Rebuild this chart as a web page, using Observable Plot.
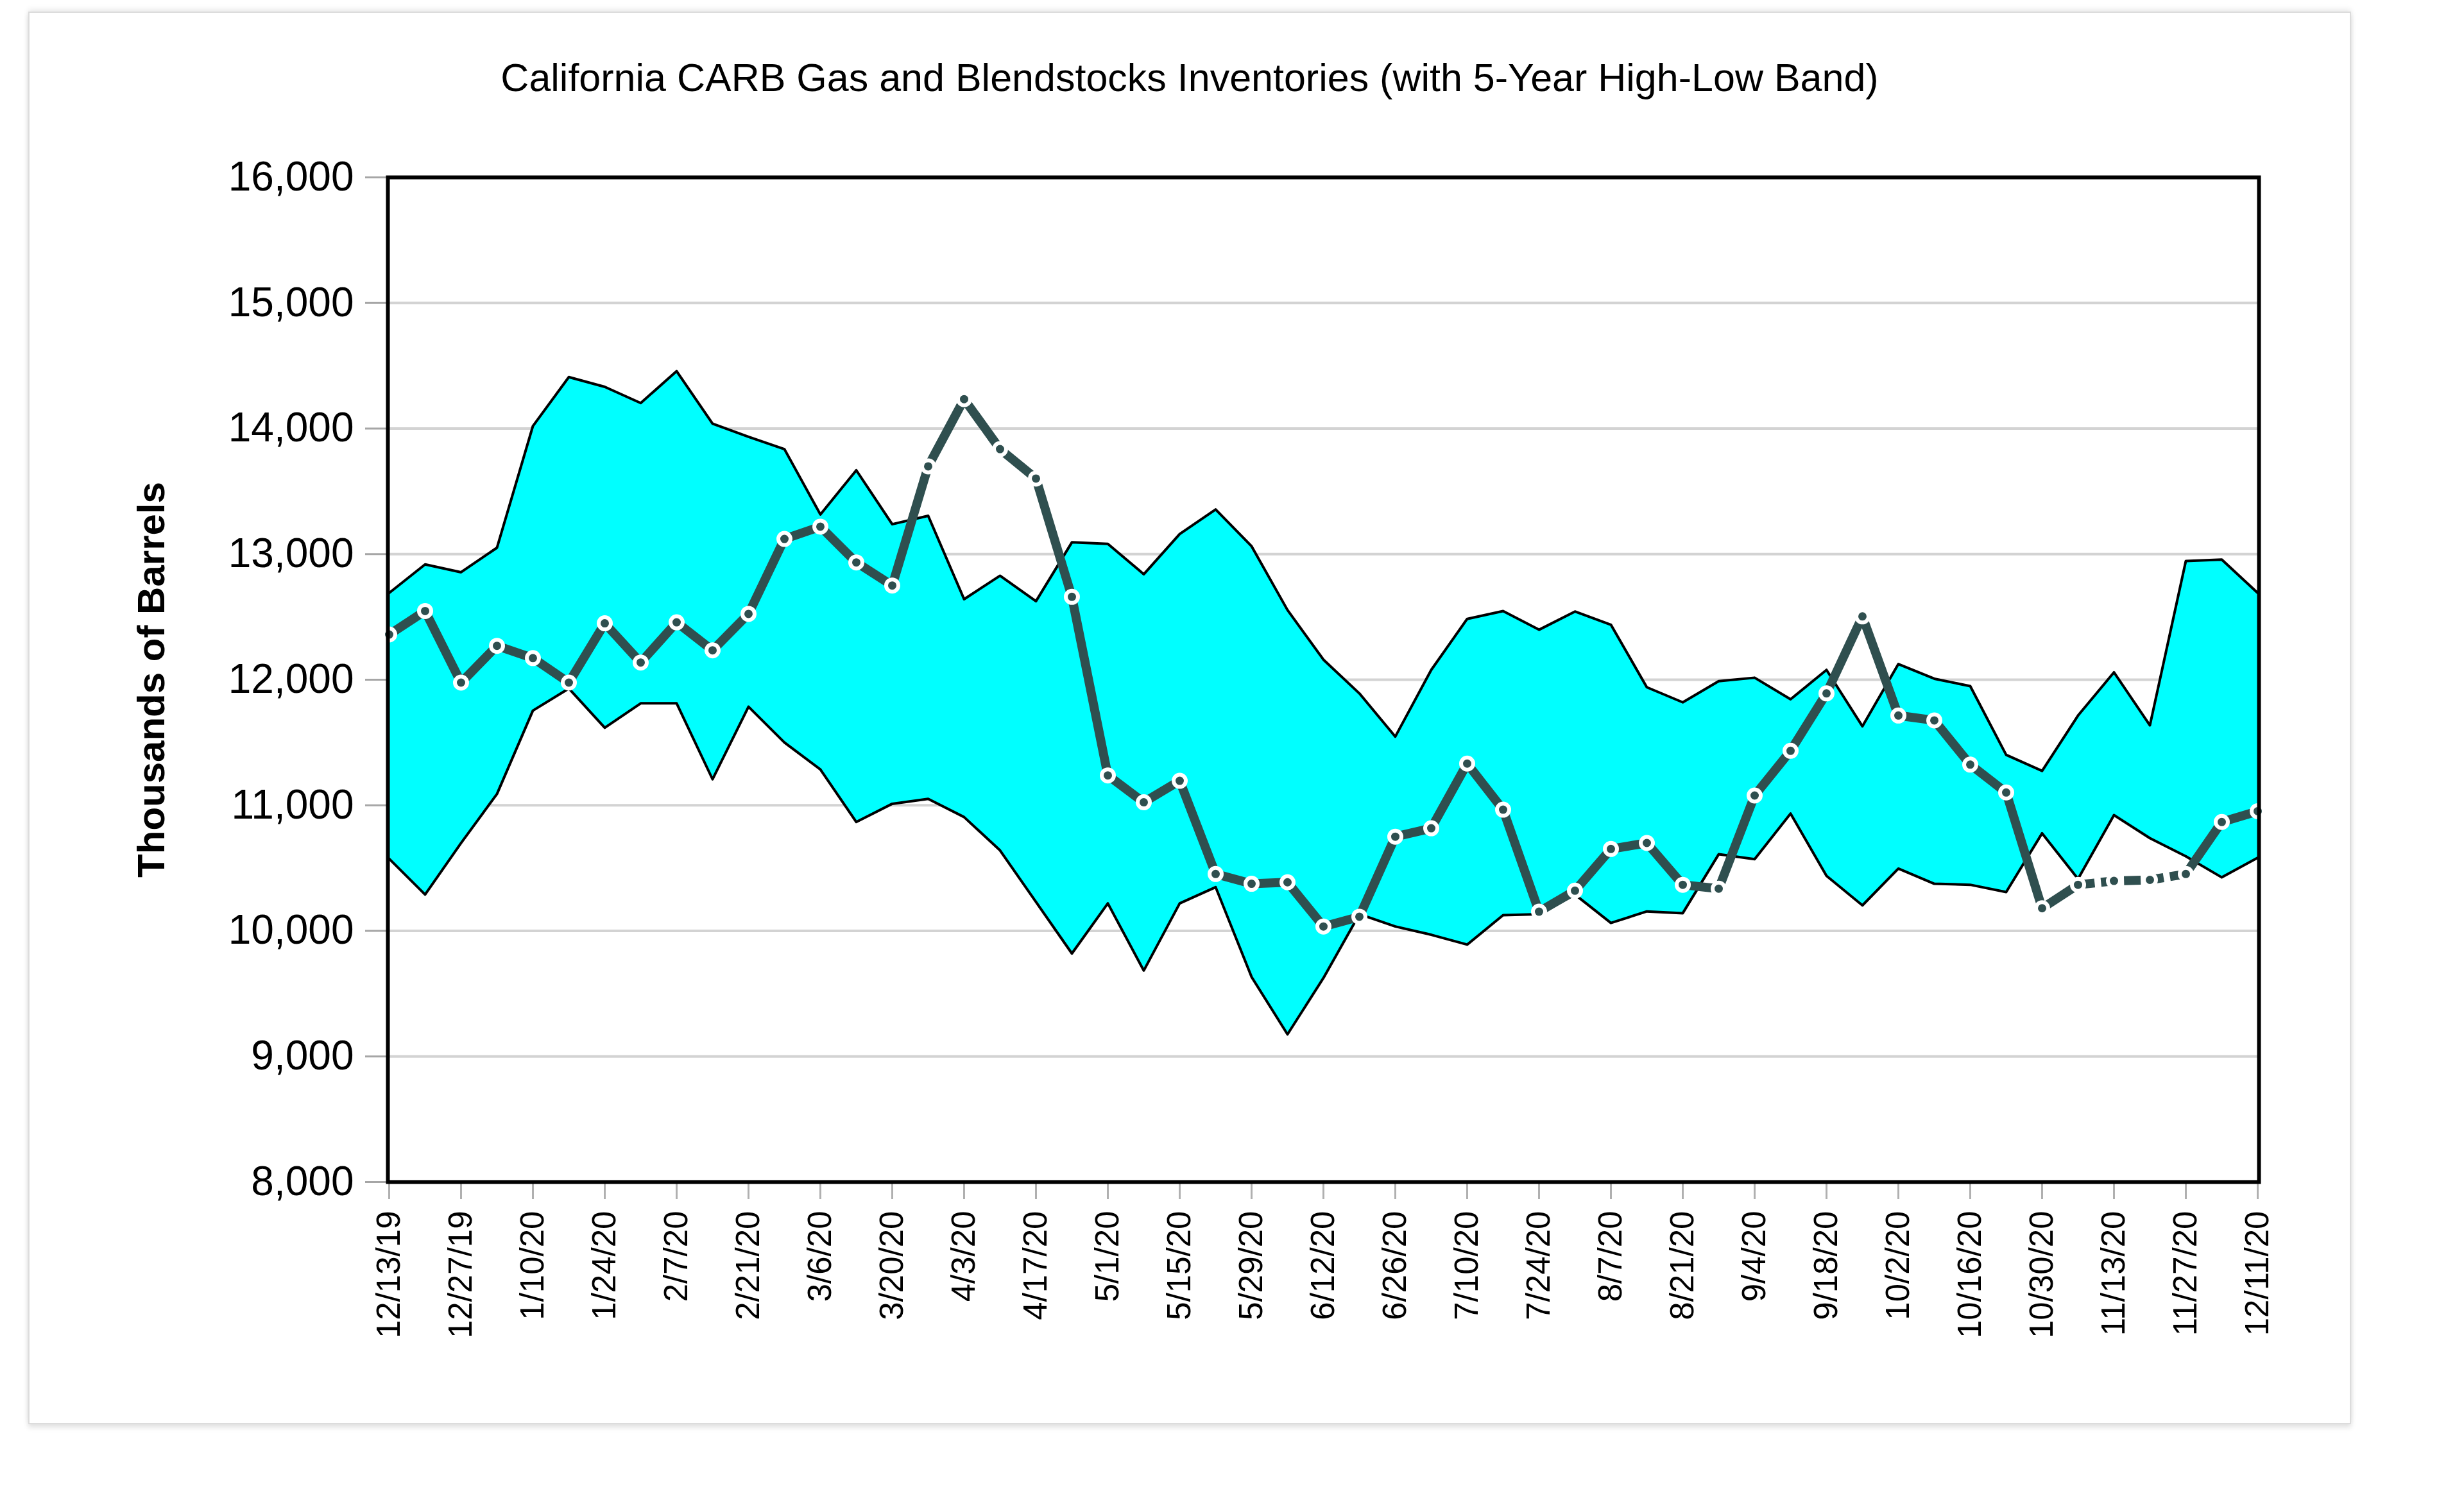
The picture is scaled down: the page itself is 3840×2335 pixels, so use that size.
<!DOCTYPE html>
<html>
<head>
<meta charset="utf-8">
<script src="https://cdn.jsdelivr.net/npm/d3@7"></script>
<script src="https://cdn.jsdelivr.net/npm/@observablehq/plot@0.6"></script>
<style>
  html, body { margin: 0; padding: 0; background: #fff; width: 3840px; height: 2335px; overflow: hidden;
    font-family: "Liberation Sans", Arial, sans-serif; }
  #card { position: absolute; left: 44px; top: 18px; width: 3616px; height: 2198px;
    border: 2px solid #dcdcdc; background: #fff;
    box-shadow: 0 5px 8px rgba(0,0,0,0.12), 0 -4px 8px rgba(0,0,0,0.08); }
  #title { position: absolute; left: 44px; width: 3620px; top: 91px; text-align: center;
    font-size: 61px; line-height: 61px; color: #000; white-space: nowrap; }
  #chart { position: absolute; left: 50px; top: 170px; }
</style>
</head>
<body>
<div id="card"></div>
<div id="title">California CARB Gas and Blendstocks Inventories (with 5-Year High-Low Band)</div>
<div id="chart"></div>
<script>
const dates = ["12/13/19","12/20/19","12/27/19","1/3/20","1/10/20","1/17/20","1/24/20","1/31/20","2/7/20","2/14/20",
  "2/21/20","2/28/20","3/6/20","3/13/20","3/20/20","3/27/20","4/3/20","4/10/20","4/17/20","4/24/20",
  "5/1/20","5/8/20","5/15/20","5/22/20","5/29/20","6/5/20","6/12/20","6/19/20","6/26/20","7/3/20",
  "7/10/20","7/17/20","7/24/20","7/31/20","8/7/20","8/14/20","8/21/20","8/28/20","9/4/20","9/11/20",
  "9/18/20","9/25/20","10/2/20","10/9/20","10/16/20","10/23/20","10/30/20","11/6/20","11/13/20","11/20/20",
  "11/27/20","12/4/20","12/11/20"];

const inventory = [12360,12547,11977,12270,12172,11977,12449,12137,12457,12234,
  12524,13121,13219,12934,12750,13699,14234,13836,13602,12660,
  11238,11024,11195,10453,10375,10387,10035,10113,10750,10817,
  11332,10965,10153,10320,10652,10700,10367,10336,11078,11434,
  11891,12504,11715,11676,11324,11102,10180,10367,10398,10406,
  10453,10867,10953];

const bandHigh = [12691,12918,12856,13051,14020,14410,14332,14203,14457,14039,
  13934,13836,13316,13668,13238,13305,12641,12828,12625,13094,
  13082,12840,13160,13356,13063,12555,12160,11891,11547,12078,
  12484,12547,12398,12543,12438,11940,11820,11988,12016,11844,
  12078,11629,12125,12008,11949,11402,11274,11715,12059,11637,
  12945,12957,12691];

const bandLow = [10574,10289,10699,11090,11754,11930,11617,11812,11812,11207,
  11785,11500,11285,10867,11012,11051,10906,10641,10231,9820,
  10219,9684,10219,10348,9633,9176,9625,10133,10035,9969,
  9891,10125,10133,10289,10063,10155,10141,10610,10571,10934,
  10438,10203,10496,10375,10367,10309,10777,10414,10922,10738,
  10594,10426,10582];

const xTickLabels = ["12/13/19","12/27/19","1/10/20","1/24/20","2/7/20","2/21/20","3/6/20","3/20/20","4/3/20",
  "4/17/20","5/1/20","5/15/20","5/29/20","6/12/20","6/26/20","7/10/20","7/24/20","8/7/20","8/21/20",
  "9/4/20","9/18/20","10/2/20","10/16/20","10/30/20","11/13/20","11/27/20","12/11/20"];

const yTicks = [8000,9000,10000,11000,12000,13000,14000,15000,16000];

const yLabel = "Thousands of Barrels";

const data = dates.map((d, i) => ({date: d, value: inventory[i], high: bandHigh[i], low: bandLow[i]}));

const lineStyle = {x: "date", y: "value", stroke: "#2f4f4f", strokeWidth: 14, strokeLinejoin: "round"};

const chart = Plot.plot({
  width: 3560,
  height: 1950,
  marginLeft: 554,
  marginRight: 90,
  marginTop: 106,
  marginBottom: 278,
  style: {fontFamily: "'Liberation Sans', Arial, sans-serif", background: "transparent", overflow: "visible", color: "#000"},
  x: {type: "point", domain: dates, padding: 0},
  y: {domain: [8000, 16000]},
  marks: [
    Plot.gridY(yTicks, {stroke: "#d3d3d3", strokeOpacity: 1, strokeWidth: 4}),
    Plot.areaY(data, {x: "date", y1: "low", y2: "high", fill: "#00ffff"}),
    Plot.lineY(data, {x: "date", y: "high", stroke: "#000", strokeWidth: 4}),
    Plot.lineY(data, {x: "date", y: "low", stroke: "#000", strokeWidth: 4}),
    Plot.lineY(data.slice(0, 48), lineStyle),
    Plot.lineY(data.slice(47, 51), {...lineStyle, strokeDasharray: "26,10", strokeLinecap: "butt"}),
    Plot.lineY(data.slice(50), lineStyle),
    Plot.dot(data, {x: "date", y: "value", r: 9.5, fill: "#2f4f4f", stroke: "#fff", strokeWidth: 6}),
    Plot.axisY(yTicks, {tickFormat: d3.format(","), tickSize: 35, tickPadding: 18, fontSize: 64,
      stroke: "#a6a6a6", strokeWidth: 3, fill: "#000", label: null}),
    Plot.axisX(xTickLabels, {tickRotate: -90, tickSize: 27, tickPadding: 18, fontSize: 51,
      stroke: "#b0b0b0", strokeWidth: 3, fill: "#000", label: null}),
    Plot.text([yLabel], {frameAnchor: "left", textAnchor: "middle", rotate: -90, dx: -368, fontSize: 60, fontWeight: "bold", fill: "#000"}),
    Plot.frame({stroke: "#000", strokeWidth: 6})
  ]
});
document.getElementById("chart").appendChild(chart);
</script>
</body>
</html>
